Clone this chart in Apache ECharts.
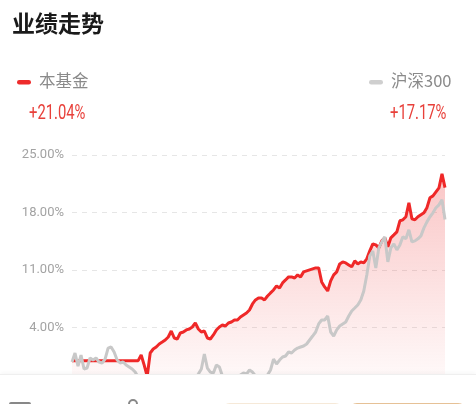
<!DOCTYPE html>
<html>
<head>
<meta charset="utf-8">
<script src="https://cdn.jsdelivr.net/npm/echarts@6/dist/echarts.min.js"></script>
<style>
html,body{margin:0;padding:0;background:#fff;}
#wrap{position:relative;width:476px;height:404px;overflow:hidden;}
#chart{position:absolute;left:0;top:0;width:476px;height:404px;}
#panel{position:absolute;left:0;top:374px;width:476px;height:30px;background:#fff;border-top:1px solid #efefef;box-shadow:0 -2px 4px rgba(0,0,0,0.03);}
.b1{position:absolute;left:222px;top:28px;width:121px;height:20px;border-radius:8px;background:#f6e9d8;}
.b2{position:absolute;left:349px;top:28px;width:117px;height:20px;border-radius:8px;background:#e6c196;}
.ic1{position:absolute;left:9px;top:27px;width:18px;height:14px;border:2px solid #888;border-radius:2px;}
.ic2{position:absolute;left:128px;top:24px;width:6px;height:6px;border:2px solid #888;border-radius:50%;}
</style>
</head>
<body>
<div id="wrap">
<div id="chart"></div>
<div id="panel"><div class="ic1"></div><div class="ic2"></div><div class="b1"></div><div class="b2"></div></div>
</div>
<script>
// Y-axis tick labels (percent)
const yTicks = [-3, 4, 11, 18, 25];
// Series names and final returns
const fundName = '本基金';
const indexName = '沪深300';
const fundReturn = '+21.04%';
const indexReturn = '+17.17%';

// Fund cumulative return (%)
const fundValues = [
  0,0,0,0,0,0,0,0,0,0,0,0,0,0,0,0,0,0,0,0,0,0,0,
  0.68,-0.54,-1.9,0.93,1.41,1.66,2.02,2.26,2.51,2.87,3.60,2.75,2.63,3.36,3.48,3.73,3.85,4.09,4.58,3.85,
  3.48,3.60,2.75,2.63,3.12,3.73,4.09,4.33,4.21,4.58,4.70,4.94,4.94,5.31,5.55,5.79,6.16,6.89,7.38,7.62,
  7.62,7.38,7.86,8.23,8.59,9.08,8.84,9.45,9.81,10.18,10.18,10.05,10.42,10.18,10.79,10.91,11.03,11.15,11.27,11.27,
  9.57,8.96,8.47,9.69,10.42,10.79,11.76,12.00,11.88,11.64,11.40,12.13,11.76,12.00,11.88,12.37,13.34,14.19,14.07,13.71,
  14.56,14.93,13.83,14.93,15.29,15.66,17.00,17.12,17.49,19.19,17.25,17.12,17.49,17.73,17.97,18.60,19.80,20.03,20.52,21.01,
  22.71,21.04
];
// CSI 300 cumulative return (%)
const indexValues = [
  -0.17,0.93,-0.66,0.68,-1.02,-0.90,0.32,0.07,0.32,-0.17,-0.29,0.19,1.53,1.66,1.05,0.07,-0.29,-0.17,-0.54,-0.78,-1.02,-1.39,-2.00,
  -2.36,-2.12,-2.61,-2.24,-2.48,-2.00,-2.36,-2.73,-2.24,-2.48,-2.12,-2.61,-2.36,-2.00,-2.48,-2.24,-2.73,-2.36,-2.12,-1.63,
  -1.02,0.80,-0.90,-1.39,-1.51,-0.54,-0.78,-1.87,-2.36,-2.12,-2.48,-2.00,-2.24,-1.75,-1.51,-1.63,-1.14,-1.39,-1.87,-2.24,
  -2.00,-2.12,-1.75,-1.14,0.19,-0.41,0.07,0.44,0.56,1.05,0.93,1.29,1.53,1.66,1.78,2.02,2.51,2.99,3.48,4.46,
  4.94,4.94,5.43,3.48,2.99,3.73,4.21,4.46,4.70,5.43,6.04,6.40,6.77,7.38,8.47,10.42,12.73,13.34,11.27,13.71,
  14.44,15.05,12.00,13.71,14.19,13.46,14.07,15.05,14.81,15.90,14.44,14.56,14.81,15.17,16.14,16.87,17.49,17.97,18.58,18.94,
  19.55,17.17
];
const categories = fundValues.map((_, i) => 'D' + (i + 1));

const chart = echarts.init(document.getElementById('chart'), null, {renderer: 'canvas'});
const yMin = yTicks[0], yMax = yTicks[yTicks.length - 1];
const yStep = yTicks[1] - yTicks[0];

chart.setOption({
  animation: false,
  grid: {left: 72, right: 31, top: 155, bottom: 18.7, containLabel: false},
  xAxis: {
    type: 'category', data: categories, boundaryGap: false,
    axisLine: {show: false}, axisTick: {show: false}, axisLabel: {show: false}, splitLine: {show: false}
  },
  yAxis: {
    type: 'value', min: yMin, max: yMax, interval: yStep,
    axisLine: {show: false}, axisTick: {show: false},
    axisLabel: {
      showMinLabel: false, margin: 8, color: '#a3a3a3', fontSize: 13,
      fontFamily: 'Roboto, sans-serif',
      formatter: v => v.toFixed(2) + '%'
    },
    splitLine: {lineStyle: {color: '#e6e6e6', type: [5, 5], width: 1}}
  },
  series: [
    {
      name: fundName, type: 'line', data: fundValues, symbol: 'none', z: 2,
      lineStyle: {color: '#ef2828', width: 3},
      areaStyle: {
        origin: 'start',
        color: new echarts.graphic.LinearGradient(0, 0, 0, 1, [
          {offset: 0, color: 'rgba(238,60,60,0.42)'},
          {offset: 1, color: 'rgba(238,60,60,0.03)'}
        ])
      }
    },
    {
      name: indexName, type: 'line', data: indexValues, symbol: 'none', z: 3,
      lineStyle: {color: '#c8c8c8', width: 3}
    }
  ],
  graphic: [
    {type: 'text', left: 12, top: 12, style: {text: '业绩走势', fontSize: 23, fontWeight: 'bold', fill: '#1a1a1a', fontFamily: '"Noto Sans CJK SC", sans-serif'}},
    {type: 'rect', shape: {x: 17, y: 80, width: 14, height: 4.5, r: 2.2}, style: {fill: '#ee2b2b'}},
    {type: 'text', left: 39, top: 72, style: {text: fundName, fontSize: 16.5, fill: '#8a8a8a', fontFamily: '"Noto Sans CJK SC", sans-serif'}},
    {type: 'text', x: 29, y: 104, scaleX: 0.74, style: {text: fundReturn, fontSize: 20, fill: '#e8403a', fontFamily: 'Roboto, sans-serif'}},
    {type: 'rect', shape: {x: 369, y: 80, width: 14, height: 4.5, r: 2.2}, style: {fill: '#cfcfcf'}},
    {type: 'text', left: 391, top: 72, style: {text: indexName, fontSize: 16.5, fill: '#8a8a8a', fontFamily: '"Noto Sans CJK SC", sans-serif'}},
    {type: 'text', x: 390, y: 104, scaleX: 0.74, style: {text: indexReturn, fontSize: 20, fill: '#e8403a', fontFamily: 'Roboto, sans-serif'}}
  ]
});
</script>
</body>
</html>
